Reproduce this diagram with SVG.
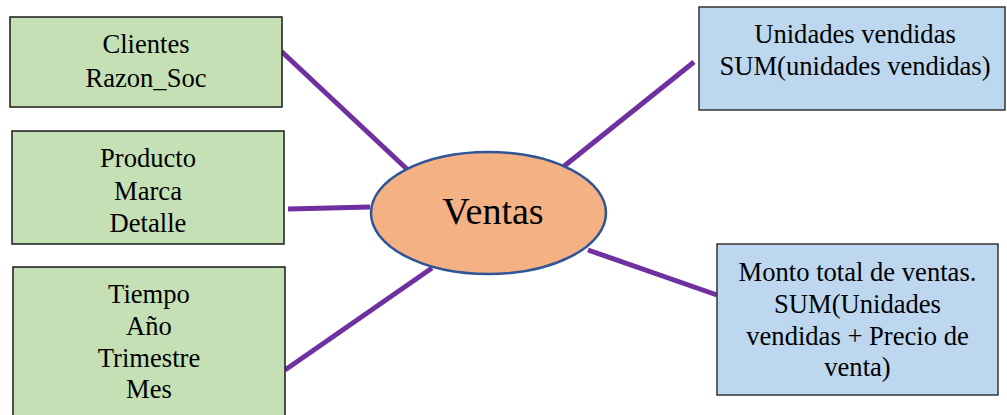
<svg xmlns="http://www.w3.org/2000/svg" width="1007" height="415" viewBox="0 0 1007 415">
  <style>
    .dim { fill: #C5E0B4; stroke: #1a1a1a; stroke-width: 1.5; }
    .fact { fill: #BDD7EE; stroke: #333333; stroke-width: 1.5; }
    .label { font-family: "Liberation Serif", "Times New Roman", serif; font-size: 26.6px; fill: #000; text-anchor: middle; }
    .link { stroke: #7030A0; stroke-width: 5; fill: none; }
  </style>
  <rect width="1007" height="415" fill="#ffffff"/>

  <!-- connectors from the central fact to each box -->
  <g id="connectors">
    <line class="link" x1="281" y1="51" x2="409" y2="171"/>
    <line class="link" x1="288" y1="209" x2="370" y2="207"/>
    <line class="link" x1="285" y1="370" x2="432" y2="268"/>
    <line class="link" x1="563" y1="167" x2="694" y2="62"/>
    <line class="link" x1="588" y1="250" x2="717" y2="295"/>
  </g>

  <g id="clientes">
    <rect class="dim" x="10" y="17" width="272" height="90"/>
    <text class="label" x="146" y="53">Clientes</text>
    <text class="label" x="146" y="87">Razon_Soc</text>
  </g>

  <g id="producto">
    <rect class="dim" x="12" y="131" width="272" height="113"/>
    <text class="label" x="148" y="167">Producto</text>
    <text class="label" x="148" y="200">Marca</text>
    <text class="label" x="148" y="232">Detalle</text>
  </g>

  <g id="tiempo">
    <rect class="dim" x="13" y="267" width="272" height="160"/>
    <text class="label" x="149" y="303">Tiempo</text>
    <text class="label" x="149" y="335">Año</text>
    <text class="label" x="149" y="367">Trimestre</text>
    <text class="label" x="149" y="398">Mes</text>
  </g>

  <g id="ventas">
    <ellipse cx="488.5" cy="213" rx="117.5" ry="61" fill="#F4B183" stroke="#2F5597" stroke-width="2.5"/>
    <text class="label" x="493" y="224" style="font-size:38px">Ventas</text>
  </g>

  <g id="unidades">
    <rect class="fact" x="699" y="7" width="306" height="103"/>
    <text class="label" x="855" y="43">Unidades vendidas</text>
    <text class="label" x="855" y="75">SUM(unidades vendidas)</text>
  </g>

  <g id="monto">
    <rect class="fact" x="717" y="244" width="281" height="151"/>
    <text class="label" x="857.5" y="281">Monto total de ventas.</text>
    <text class="label" x="857.5" y="313">SUM(Unidades</text>
    <text class="label" x="857.5" y="345">vendidas + Precio de</text>
    <text class="label" x="857.5" y="376">venta)</text>
  </g>
</svg>
